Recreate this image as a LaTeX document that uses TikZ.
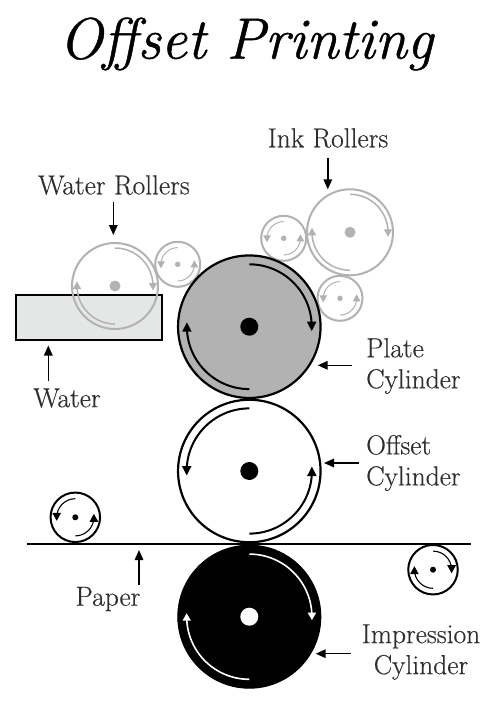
\documentclass[tikz,border=0pt]{standalone}
\usepackage{fontspec}
\setmainfont{Latin Modern Roman}
\usetikzlibrary{arrows.meta,calc}
\definecolor{rollgray}{HTML}{B2B2B2}
\definecolor{labelgray}{HTML}{2E2E2E}
\definecolor{tankfill}{HTML}{E5E7E6}
\tikzset{
  x=1pt,y=-1pt,
  roller/.style={circle,inner sep=0pt,outer sep=0pt,draw,minimum size=#1},
  hub/.style={circle,inner sep=0pt,outer sep=0pt,minimum size=#1},
  lbl/.style={font=\fontsize{27.5}{31}\selectfont\addfontfeatures{FakeBold=0.4},text=labelgray,align=center,inner sep=0pt},
  ptr/.style={draw=black,line width=1.5pt,-{Triangle[length=10pt,width=8.5pt]}},
  bigarc/.style={line width=2pt,-{Triangle[length=9.5pt,width=9pt]}},
  midarc/.style={line width=1.5pt,-{Triangle[length=7.5pt,width=8pt]}},
  smallarc/.style={line width=1pt,-{Triangle[length=7pt,width=7.5pt]}},
  paperarc/.style={line width=1.1pt,-{Triangle[length=8pt,width=8.5pt]}},
}
% node, radius, screen end angle from the top, from the bottom, straight run into the tip, style
\newcommand{\twoarcs}[6]{%
  \draw[#6] ($(#1)+(-90:#2)$) arc[start angle=-90,end angle={-(#3)},radius=#2] -- ++(0,#5);
  \draw[#6] ($(#1)+(90:#2)$) arc[start angle=-270,end angle={-(#4)},radius=#2] -- ++(0,-#5);
}
\begin{document}
\begin{tikzpicture}
\useasboundingbox (0,0) rectangle (500,707);
\fill[white] (0,0) rectangle (500,707);

\node[font=\fontsize{58.2}{66}\selectfont\itshape\addfontfeatures{FakeBold=0.8},text=black,inner sep=0pt] (title) at (246,44) {Offset Printing};

% water tank
\node[draw=black,line width=1.7pt,fill=tankfill,minimum width=146pt,minimum height=45pt,inner sep=0pt,outer sep=0pt] (tank) at (89,317.5) {};

% grey rollers
\begin{scope}[draw=rollgray,line width=2pt]
\node[roller=86pt] (wbig) at (115,286) {};
\node[roller=45pt] (wsmall) at (177.7,264.3) {};
\node[roller=86pt] (ibig) at (350,232.3) {};
\node[roller=45pt] (ismalla) at (283.7,238.3) {};
\node[roller=45pt] (ismallb) at (340,298.3) {};
\end{scope}
\twoarcs{wbig}{38}{0}{180}{4.5}{midarc,rollgray}
\twoarcs{ibig}{38}{0}{180}{4.5}{midarc,rollgray}
\twoarcs{wsmall}{16.7}{180}{360}{4}{smallarc,rollgray}
\twoarcs{ismalla}{16.7}{180}{360}{4}{smallarc,rollgray}
\twoarcs{ismallb}{16.7}{180}{360}{4}{smallarc,rollgray}
\node[hub=5.5pt,fill=rollgray] at (wsmall) {};
\node[hub=5.5pt,fill=rollgray] at (ismalla) {};
\node[hub=5.5pt,fill=rollgray] at (ismallb) {};
\node[hub=11pt,fill=rollgray] at (wbig) {};
\node[hub=11pt,fill=rollgray] at (ibig) {};

% main cylinders
\node[roller=142.5pt,line width=2.2pt,draw=black,fill=rollgray] (plate) at (249.3,326.7) {};
\node[roller=142.5pt,line width=2.2pt,draw=black,fill=white] (offset) at (249.3,471) {};
\node[roller=143pt,line width=1pt,draw=black,fill=black] (impression) at (249.3,616.7) {};

\twoarcs{plate}{62.4}{0}{180}{4.5}{bigarc,black}
\node[hub=18pt,fill=black] at (plate) {};
\twoarcs{offset}{62.6}{180}{360}{4.5}{bigarc,black}
\node[hub=18pt,fill=black] at (offset) {};
\twoarcs{impression}{62.6}{0}{180}{3.5}{midarc,white,line width=1.6pt}
\node[hub=18pt,fill=white] at (impression) {};

% paper rollers
\node[roller=49.5pt,line width=2pt,draw=black,fill=white] (pleft) at (75.3,517.3) {};
\node[roller=49.5pt,line width=2pt,draw=black,fill=white] (pright) at (433,569.7) {};
\twoarcs{pleft}{18.6}{180}{360}{3.5}{paperarc,black}
\node[hub=6pt,fill=black] at (pleft) {};
\twoarcs{pright}{18.6}{0}{180}{3.5}{paperarc,black}
\node[hub=6pt,fill=black] at (pright) {};

% paper
\coordinate (pa) at (27,544);
\coordinate (pb) at (471,544);
\draw[line width=2.2pt,black] (pa) -- (pb);

% labels
\node[lbl] (lwr) at (114,185) {Water Rollers};
\node[lbl] (lir) at (328,138) {Ink Rollers};
\node[lbl] (lw) at (67,398) {Water};
\node[lbl,align=left,anchor=west] (lpc) at (366,366) {Plate\\Cylinder};
\node[lbl] (lp) at (108,599) {Paper};
\node[lbl,align=left,anchor=west] (loc) at (366,463) {Offset\\Cylinder};
\node[lbl] (lic) at (421,652) {Impression\\Cylinder};

% pointers
\coordinate (awr) at (113.3,202);
\coordinate (air) at (327.8,158);
\coordinate (aw) at (48.3,381);
\coordinate (apc) at (352,365.3);
\coordinate (aoc) at (359,463);
\coordinate (ap) at (139,585);
\coordinate (aic) at (351,653.7);
\draw[ptr,shorten >=8pt] (awr) -- (awr |- wbig.north);
\draw[ptr] (air) -- (air |- ibig.north);
\draw[ptr,shorten >=5.5pt] (aw) -- (aw |- tank.south);
\draw[ptr] (apc) -- (317.7,365.3);
\draw[ptr] (aoc) -- (324,463);
\draw[ptr,shorten >=6pt] (ap) -- (ap |- pa);
\draw[ptr] (aic) -- (315.7,653.7);
\end{tikzpicture}
\end{document}
